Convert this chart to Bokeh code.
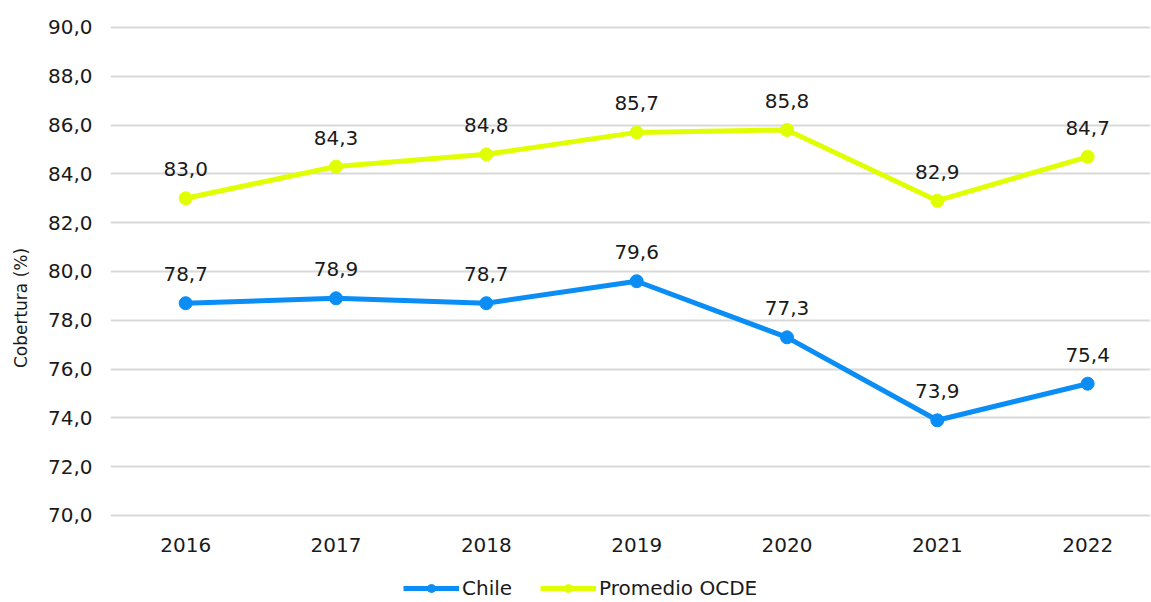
from bokeh.plotting import figure
from bokeh.models import FixedTicker, Range1d, Legend, LegendItem, ColumnDataSource
from bokeh.core.properties import value
from bokeh.embed import file_html
from bokeh.resources import INLINE

years = ["2016", "2017", "2018", "2019", "2020", "2021", "2022"]
chile = [78.7, 78.9, 78.7, 79.6, 77.3, 73.9, 75.4]
ocde = [83.0, 84.3, 84.8, 85.7, 85.8, 82.9, 84.7]
y_ticks = [70, 72, 74, 76, 78, 80, 82, 84, 86, 88, 90]
y_min = y_ticks[0]

FONT = "DejaVu Sans"
BLUE = "#0A8EF5"
YELLOW = "#E0FF00"

def fmt(v):
    return f"{v:.1f}".replace(".", ",")

xs = list(range(len(years)))

p = figure(width=1150, height=600, output_backend="svg", toolbar_location=None,
           x_range=Range1d(-0.5, 6.418), y_range=Range1d(66.515, 90.49),
           min_border_left=110, min_border_right=0, min_border_top=15, min_border_bottom=0)
p.outline_line_color = None
p.background_fill_color = "white"

p.xaxis.visible = False
p.yaxis.ticker = FixedTicker(ticks=y_ticks)
p.yaxis.major_label_overrides = {t: fmt(t) for t in y_ticks}
ax = p.yaxis[0]
ax.axis_line_color = None
ax.major_tick_line_color = None
ax.minor_tick_line_color = None
ax.major_label_text_font = FONT
ax.major_label_text_font_size = "20px"
ax.major_label_text_color = "#1a1a1a"
ax.major_label_standoff = 12
ax.axis_label = "Cobertura (%)"
ax.axis_label_text_font = FONT
ax.axis_label_text_font_size = "17px"
ax.axis_label_text_font_style = "normal"
ax.axis_label_text_color = "#1a1a1a"
ax.axis_label_standoff = 14
p.xgrid.grid_line_color = None
p.ygrid.grid_line_color = "#D9D9D9"
p.ygrid.grid_line_width = 2
p.ygrid.ticker = FixedTicker(ticks=y_ticks)

# category (year) labels under the 70,0 baseline
p.text(x=xs, y=[y_min] * len(xs), text=years, text_align="center", text_baseline="middle",
       y_offset=30, text_font=value(FONT), text_font_size="20px", text_color="#1a1a1a")

items = []
for name, vals, col in (("Chile", chile, BLUE), ("Promedio OCDE", ocde, YELLOW)):
    src = ColumnDataSource(dict(x=xs, y=vals, lab=[fmt(v) for v in vals]))
    r1 = p.line("x", "y", source=src, line_color=col, line_width=5)
    r2 = p.scatter("x", "y", source=src, size=13, fill_color=col, line_color=col)
    p.text("x", "y", text="lab", source=src, text_align="center", text_baseline="bottom",
           y_offset=-22, text_font=value(FONT), text_font_size="20px", text_color="#1a1a1a")
    items.append(LegendItem(label=name, renderers=[r1, r2]))

legend = Legend(items=items, orientation="horizontal", location=(293, 0),
                label_text_font=FONT, label_text_font_size="20px", label_text_color="#1a1a1a",
                glyph_width=56, glyph_height=20, label_standoff=3, spacing=28,
                border_line_color=None, background_fill_alpha=0, padding=0, margin=0)
p.add_layout(legend)

open("out.html", "w").write(file_html(p, INLINE))
